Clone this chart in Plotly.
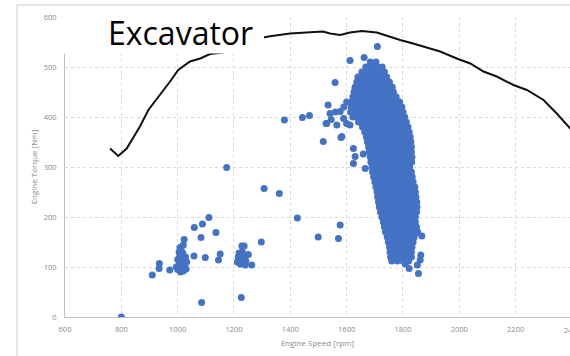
import plotly.graph_objects as go

# ---------------- data ----------------
curve_speed = [760, 789, 819, 866, 896, 937, 973, 1002, 1044, 1080, 1115, 1162, 1220, 1270,
               1322, 1399, 1450, 1516, 1541, 1577, 1612, 1654, 1707, 1748, 1790, 1836, 1896,
               1932, 1991, 2039, 2086, 2133, 2192, 2240, 2299, 2346, 2394, 2420]
curve_torque = [337, 322, 337, 381, 414, 444, 471, 494, 511, 517, 526, 529, 545, 555,
                561, 567, 569, 571, 567, 564, 569, 572, 569, 561, 554, 547, 537,
                531, 517, 507, 491, 481, 464, 454, 434, 407, 377, 362]

# dense operating cluster, one row of speeds per torque level
blob_rows = [
    (510, [1684, 1704]),
    (500, [1668, 1688, 1708, 1726]),
    (490, [1654, 1674, 1694, 1714, 1734]),
    (480, [1640, 1660, 1680, 1700, 1720, 1742]),
    (470, [1636, 1656, 1676, 1696, 1716, 1736, 1752]),
    (460, [1630, 1648, 1668, 1688, 1708, 1728, 1748, 1762]),
    (450, [1626, 1644, 1664, 1684, 1704, 1724, 1744, 1766]),
    (440, [1622, 1640, 1658, 1678, 1698, 1718, 1738, 1758, 1776]),
    (430, [1618, 1636, 1654, 1674, 1694, 1714, 1734, 1754, 1772, 1788]),
    (420, [1616, 1632, 1650, 1668, 1688, 1708, 1728, 1748, 1768, 1784, 1796]),
    (410, [1614, 1630, 1646, 1664, 1684, 1704, 1724, 1744, 1764, 1784, 1800]),
    (400, [1622, 1640, 1658, 1676, 1696, 1716, 1736, 1756, 1776, 1794, 1806]),
    (390, [1642, 1660, 1680, 1700, 1720, 1740, 1760, 1780, 1798, 1812]),
    (380, [1656, 1672, 1690, 1710, 1730, 1750, 1770, 1790, 1806, 1818]),
    (370, [1664, 1682, 1700, 1720, 1740, 1760, 1780, 1800, 1814, 1822]),
    (360, [1670, 1688, 1706, 1726, 1746, 1766, 1786, 1806, 1826]),
    (350, [1674, 1692, 1712, 1732, 1752, 1772, 1792, 1812, 1828]),
    (340, [1678, 1696, 1716, 1736, 1756, 1776, 1796, 1814, 1830]),
    (330, [1680, 1698, 1718, 1738, 1758, 1778, 1798, 1816, 1830]),
    (320, [1684, 1702, 1722, 1742, 1762, 1782, 1802, 1820, 1832]),
    (310, [1686, 1704, 1724, 1744, 1764, 1784, 1804, 1820, 1831]),
    (300, [1690, 1708, 1728, 1748, 1768, 1788, 1808, 1824]),
    (290, [1692, 1710, 1730, 1750, 1770, 1790, 1810, 1830]),
    (280, [1696, 1714, 1734, 1754, 1774, 1794, 1814, 1833]),
    (270, [1700, 1718, 1738, 1758, 1778, 1798, 1818, 1836]),
    (260, [1704, 1722, 1742, 1762, 1782, 1802, 1822, 1842]),
    (250, [1708, 1726, 1746, 1766, 1786, 1806, 1826, 1844]),
    (240, [1710, 1728, 1748, 1768, 1788, 1808, 1828, 1846]),
    (230, [1713, 1732, 1752, 1772, 1792, 1812, 1832, 1849]),
    (220, [1716, 1734, 1754, 1774, 1794, 1814, 1834, 1850]),
    (210, [1720, 1738, 1758, 1778, 1798, 1818, 1836, 1848]),
    (200, [1725, 1744, 1764, 1784, 1804, 1824, 1844]),
    (190, [1730, 1748, 1768, 1788, 1808, 1828, 1844]),
    (180, [1734, 1752, 1772, 1792, 1812, 1832, 1848]),
    (170, [1738, 1756, 1776, 1796, 1816, 1836, 1852]),
    (160, [1744, 1762, 1782, 1802, 1822, 1840]),
    (150, [1748, 1766, 1786, 1806, 1822, 1836]),
    (140, [1752, 1770, 1790, 1810, 1832]),
    (130, [1754, 1772, 1792, 1812, 1830]),
    (120, [1756, 1774, 1794, 1814, 1830]),
    (112, [1760, 1780, 1800, 1820]),
]

scatter_speed = [1822, 1861, 1863, 1851, 1855, 1808, 1851, 1867,
                 1559, 1612, 1662, 1709, 1534, 1541, 1577, 1529, 1565, 1600, 1612, 1589,
                 1636, 1630, 1583, 1517, 1624, 1630, 1624, 1666, 1659, 1580, 1379, 1443,
                 1468, 1527, 1577, 1571, 1499, 1425, 1307, 1361, 1174, 1297, 1600, 1590,
                 1560, 1545,
                 1111, 1088, 1059, 1136, 1083, 1023, 1008, 1020, 1058, 1098, 1151, 1145,
                 935, 934, 910, 972, 1085, 1226, 1228, 1236, 1251, 1263, 800,
                 1000, 1010, 1020, 1030, 1005, 1015, 1025, 1000, 1012, 1022, 1008, 1018,
                 1028, 995, 1032, 1012, 1005,
                 1212, 1222, 1232, 1242, 1215, 1225, 1235, 1218, 1230, 1240, 1228]
scatter_torque = [97, 114, 124, 104, 87, 106, 169, 162,
                  469, 513, 519, 541, 424, 407, 411, 387, 384, 387, 384, 397,
                  447, 457, 361, 351, 337, 321, 307, 297, 326, 359, 394, 399,
                  403, 387, 184, 157, 160, 198, 257, 247, 299, 150, 430, 420,
                  410, 395,
                  199, 186, 179, 169, 159, 155, 139, 144, 122, 119, 126, 114,
                  107, 97, 84, 94, 29, 39, 142, 142, 125, 104, 0,
                  95, 90, 92, 96, 105, 102, 106, 115, 112, 118, 125, 128,
                  120, 100, 110, 135, 130,
                  110, 106, 108, 112, 120, 118, 122, 128, 130, 104, 114]

x_ticks = [600, 800, 1000, 1200, 1400, 1600, 1800, 2000, 2200, 2400]
y_ticks = [0, 100, 200, 300, 400, 500, 600]

# ---------------- build ----------------
pts_speed = list(scatter_speed)
pts_torque = list(scatter_torque)
for tq, speeds in blob_rows:
    pts_speed += speeds
    pts_torque += [tq] * len(speeds)

BLUE = "#4472C4"
GRID = "#d9d9d9"
TXT = "#8a8a8a"
FONT = "Open Sans"

fig = go.Figure()
fig.add_trace(go.Scatter(x=pts_speed, y=pts_torque, mode="markers",
                         marker=dict(size=7, color=BLUE, line=dict(width=0)),
                         showlegend=False, cliponaxis=True))
fig.add_trace(go.Scatter(x=curve_speed, y=curve_torque, mode="lines",
                         line=dict(color="#111111", width=2),
                         showlegend=False))

fig.update_layout(
    width=570, height=356,
    margin=dict(l=65, r=0, t=17, b=39),
    paper_bgcolor="white", plot_bgcolor="white",
    font=dict(family=FONT, color=TXT, size=7.5),
    xaxis=dict(range=[600, 2393], tickvals=x_ticks, showgrid=True,
               gridcolor=GRID, griddash="3px,3px", gridwidth=1,
               showline=True, linecolor="#bfbfbf", linewidth=1,
               zeroline=False, ticks="", ticklabelstandoff=5,
               title=dict(text="Engine Speed [rpm]", font=dict(size=8, color=TXT),
                          standoff=7)),
    yaxis=dict(range=[0, 600], tickvals=y_ticks, showgrid=True,
               gridcolor=GRID, griddash="3px,3px", gridwidth=1,
               showline=True, linecolor="#bfbfbf", linewidth=1,
               zeroline=False, ticks="", ticklabelstandoff=6,
               title=dict(text="Engine Torque [Nm]", font=dict(size=8, color=TXT),
                          standoff=4)),
    shapes=[
        dict(type="rect", xref="paper", yref="paper",
             x0=-0.095, x1=1.2, y0=-0.3, y1=1.04,
             line=dict(color="#cfcfcf", width=1), fillcolor="rgba(0,0,0,0)",
             layer="below"),
        dict(type="rect", xref="paper", yref="paper",
             x0=-0.0139, x1=0.394, y0=0.878, y1=1.03,
             line=dict(width=0), fillcolor="white", layer="above"),
    ],
    annotations=[
        dict(text="Excavator", xref="paper", yref="paper", x=0.2297, y=0.95,
             xanchor="center", yanchor="middle", showarrow=False,
             font=dict(family=FONT, size=32, color="black")),
        dict(text="2400", xref="paper", yref="paper", x=1.004, y=-0.043,
             xanchor="center", yanchor="middle", showarrow=False,
             font=dict(family=FONT, size=7.5, color=TXT)),
    ],
)

fig.write_html("out.html")
